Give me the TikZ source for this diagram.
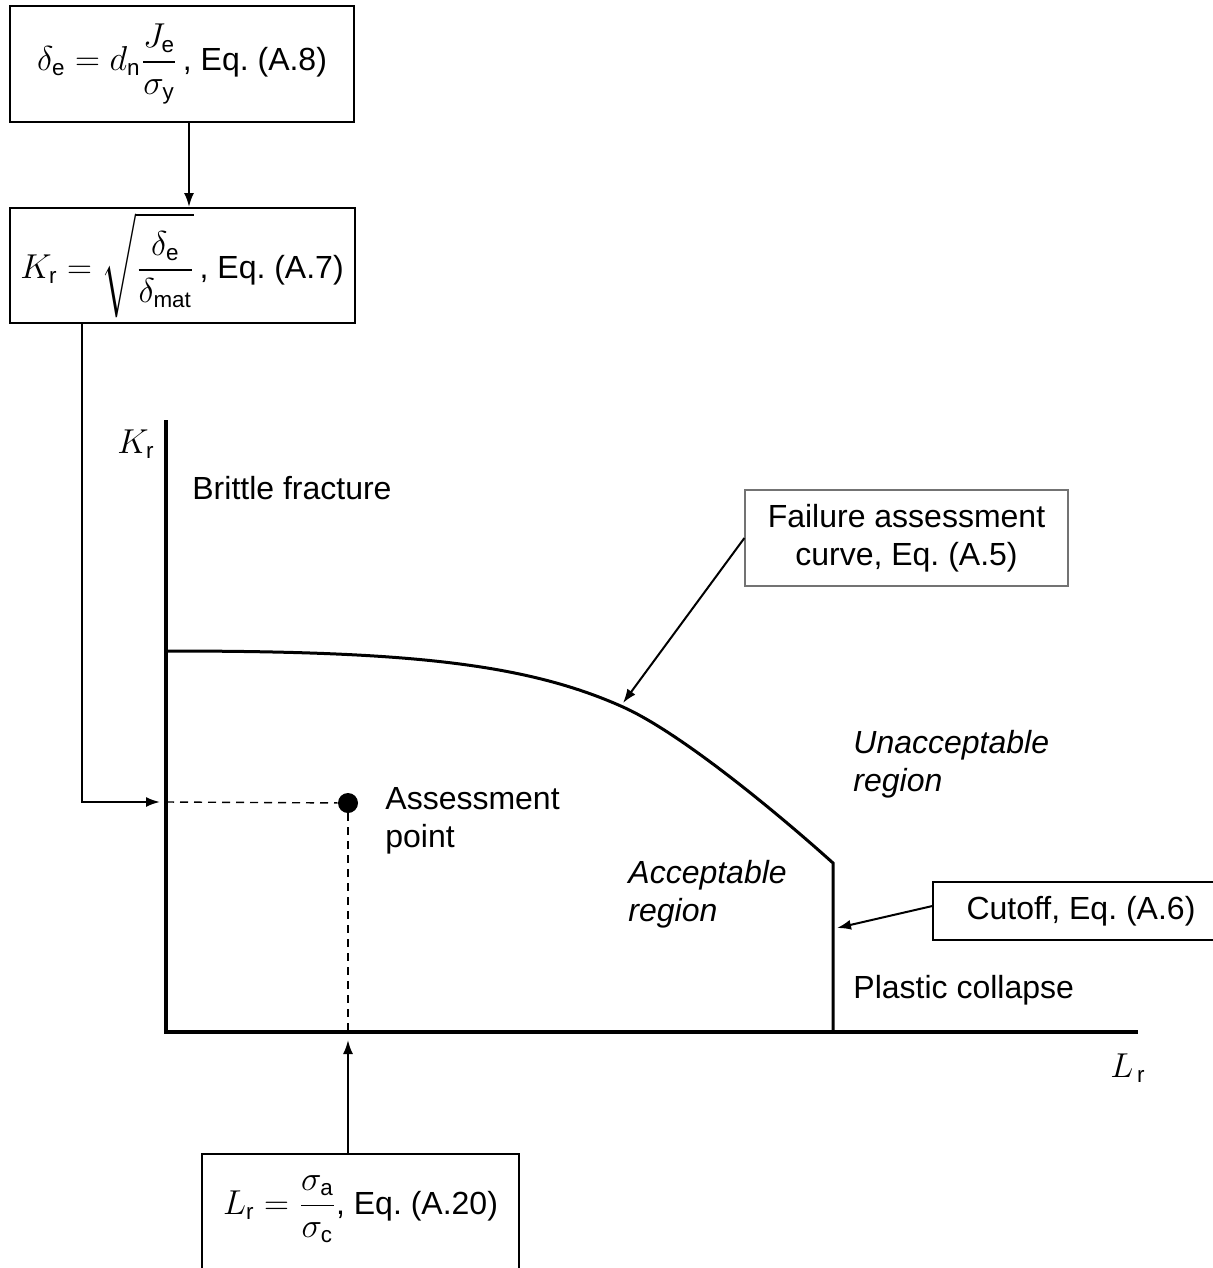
\documentclass[tikz,border=0pt]{standalone}
\usepackage{amsmath}
\usepackage{fontspec}
\setmainfont{Liberation Sans}
\usepackage{tikz}
\usetikzlibrary{arrows.meta, positioning}

\begin{document}
\begin{tikzpicture}[
  x=0.5pt, y=-0.5pt,
  font=\fontsize{16}{19}\selectfont,
  eqbox/.style={rectangle, draw, line width=1pt, align=center, inner sep=0pt},
  notebox/.style={rectangle, draw, line width=0.6pt, align=center, inner sep=0pt},
  txt/.style={anchor=west, align=left, inner sep=0pt},
  arr/.style={-{Latex[length=7pt,width=5pt]}, line width=1pt},
  axisline/.style={line width=2pt, line join=miter},
  fadcurve/.style={line width=1.5pt, line join=miter},
  guide/.style={dashed, line width=0.7pt, dash pattern=on 4pt off 3pt},
]
\useasboundingbox (0,0) rectangle (1213,1268);

\node[eqbox, minimum width=172pt, minimum height=58pt] (dele) at (182,64)
  {$\displaystyle \delta_{\text{e}} = d_{\text{n}}\frac{J_{\text{e}}}{\sigma_{\text{y}}}$\,, Eq.~(A.8)};
\node[eqbox, minimum width=172.5pt, minimum height=57.5pt, below=42pt of dele] (kr)
  {$\displaystyle K_{\text{r}} = \sqrt{\frac{\delta_{\text{e}}}{\delta_{\text{mat}}}}$\,, Eq.~(A.7)};
\node[eqbox, minimum width=158.5pt, text height=30pt, text depth=38pt, anchor=north] (lr) at (360.5,1153)
  {$\displaystyle L_{\text{r}} = \frac{\sigma_{\text{a}}}{\sigma_{\text{c}}}$, Eq.~(A.20)};

\node[notebox, draw=black!55, minimum width=161.5pt, minimum height=48pt] (fac) at (906.5,538)
  {Failure assessment\\curve, Eq.~(A.5)};
\node[notebox, minimum width=148pt, minimum height=29pt] (cut) at (1081,911) {Cutoff, Eq.~(A.6)};

\coordinate (org) at (166,1032);
\coordinate (kr0) at (166,802);
\coordinate (lr0) at (348,1032);
\coordinate (facpt) at (623,703);
\coordinate (cutpt) at (837,928);

\draw[axisline] (166,420) -- (org) -- (1138,1032);
\node[inner sep=0pt] (kaxis) at (136,444) {$K_{\text{r}}$};
\node[inner sep=0pt] (laxis) at (1128,1068) {$L_{\,\text{r}}$};

\draw[fadcurve] (166,651) .. controls (400,651) and (523,662) .. (623,707)
  .. controls (683,734) and (783,818) .. (833,863) -- (833,1032);

\node[circle, fill, inner sep=0pt, minimum size=10pt] (apt) at (348,803) {};
\draw[guide] (kr0) -- (apt);
\draw[guide] (apt) -- (lr0);

\node[txt] (brittle) at (192,488) {Brittle fracture};
\node[txt] (aptlbl) at (385,821) {Assessment\\point};
\node[txt, font=\fontsize{16}{19}\selectfont\itshape] (unacc) at (853,764) {Unacceptable\\region};
\node[txt, font=\fontsize{16}{19}\selectfont\itshape] (acc) at (628,894) {Acceptable\\region};
\node[txt] (plastic) at (853,990) {Plastic collapse};

\draw[arr] ([xshift=3.5pt]dele.south) -- ([xshift=3.5pt]kr.north);
\draw[arr, shorten >=3pt] ([xshift=-50.25pt]kr.south) |- (kr0);
\draw[arr] (lr.north -| lr0) -- ([yshift=-4pt]lr0);
\draw[arr] (fac.west) -- (facpt);
\draw[arr] ([yshift=2.5pt]cut.west) -- (cutpt);

\end{tikzpicture}
\end{document}
